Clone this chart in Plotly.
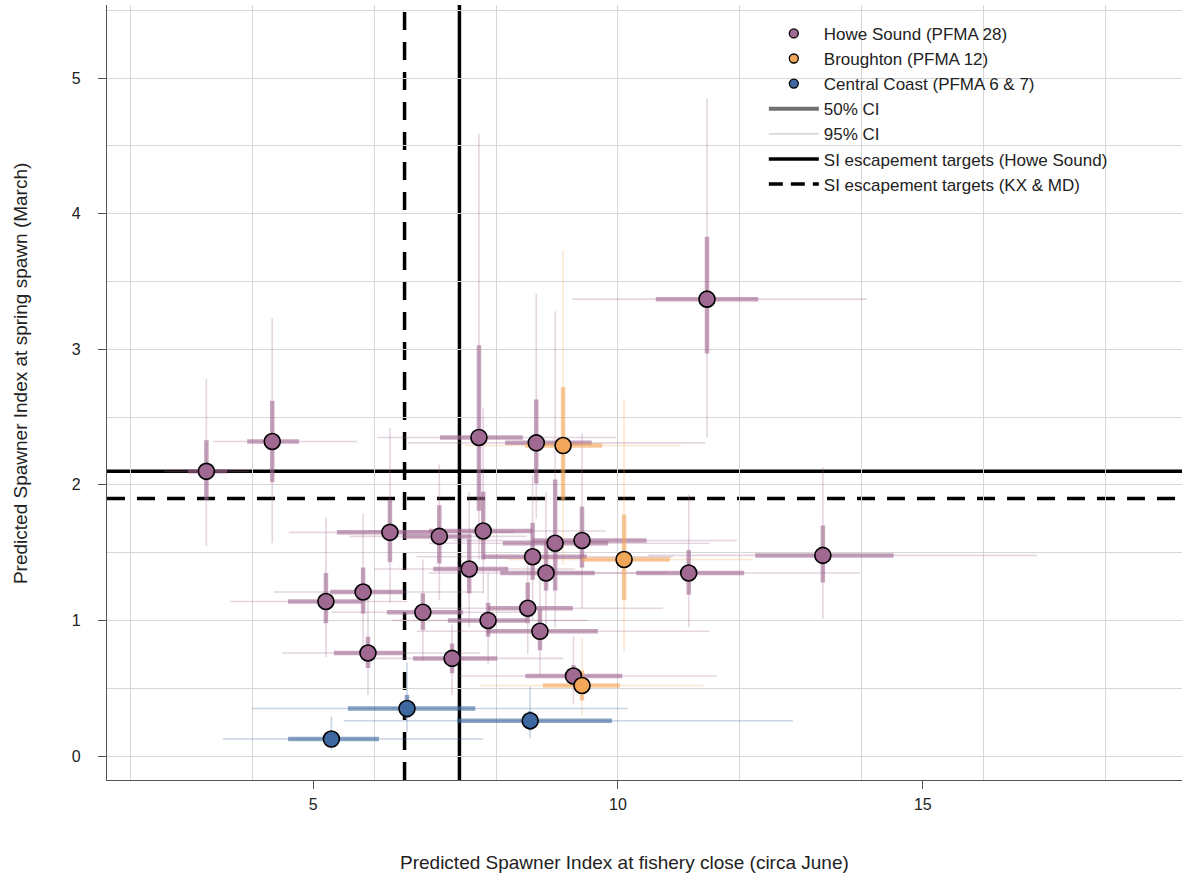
import plotly.graph_objects as go

# ---------------- data ----------------
# Howe Sound (PFMA 28)
howe_x      = [3.25, 4.33, 7.72, 8.66, 6.26, 7.07, 7.79, 9.41, 8.97, 8.60, 7.56, 8.82, 11.16, 13.36, 11.46, 5.21, 5.82, 6.80, 8.52, 7.87, 8.72, 5.90, 7.28, 9.27]
howe_x50_lo = [2.95, 3.92, 7.08, 8.15, 5.39, 6.48, 6.90, 8.60, 8.11, 7.79, 6.97, 8.07, 10.30, 12.25, 10.62, 4.59, 5.28, 6.21, 7.87, 7.21, 7.85, 5.34, 6.64, 8.48]
howe_x50_hi = [3.59, 4.77, 8.44, 9.57, 6.95, 7.60, 8.60, 10.47, 9.84, 9.49, 8.20, 9.62, 12.07, 14.52, 12.30, 5.80, 6.48, 7.46, 9.26, 8.50, 9.67, 6.48, 8.02, 10.07]
howe_x95_lo = [2.55, 3.36, 6.05, 6.56, 4.60, 5.60, 5.90, 7.30, 6.90, 6.70, 6.00, 6.90, 9.05, 10.50, 9.25, 3.64, 4.36, 5.30, 6.90, 6.30, 6.70, 4.49, 5.80, 7.40]
howe_x95_hi = [3.95, 5.72, 9.98, 11.43, 8.30, 8.50, 9.80, 11.95, 11.50, 10.90, 9.30, 10.80, 13.97, 16.87, 14.08, 6.54, 7.79, 8.40, 10.74, 9.50, 11.50, 7.74, 9.10, 11.62]
howe_y      = [2.10, 2.32, 2.35, 2.31, 1.65, 1.62, 1.66, 1.59, 1.57, 1.47, 1.38, 1.35, 1.35, 1.48, 3.37, 1.14, 1.21, 1.06, 1.09, 1.00, 0.92, 0.76, 0.72, 0.59]
howe_y50_lo = [1.89, 2.02, 1.81, 2.01, 1.43, 1.42, 1.45, 1.39, 1.22, 1.30, 1.20, 1.22, 1.19, 1.28, 2.97, 0.98, 1.05, 0.93, 0.98, 0.88, 0.78, 0.65, 0.61, 0.52]
howe_y50_hi = [2.33, 2.62, 3.03, 2.63, 1.89, 1.85, 1.95, 1.84, 2.04, 1.72, 1.60, 1.59, 1.52, 1.70, 3.83, 1.35, 1.39, 1.20, 1.28, 1.13, 1.08, 0.88, 0.83, 0.67]
howe_y95_lo = [1.55, 1.57, 1.45, 1.75, 1.13, 1.15, 1.20, 1.09, 0.95, 1.00, 0.95, 0.90, 0.95, 1.01, 2.35, 0.73, 0.75, 0.70, 0.75, 0.68, 0.60, 0.45, 0.45, 0.38]
howe_y95_hi = [2.78, 3.23, 4.59, 3.41, 2.42, 2.15, 2.57, 2.38, 3.28, 2.07, 1.95, 1.95, 1.93, 2.13, 4.85, 1.76, 1.79, 1.45, 1.50, 1.35, 1.30, 1.25, 0.97, 0.88]

# Broughton (PFMA 12)
brou_x      = [9.10, 10.10, 9.41]
brou_x50_lo = [8.48, 9.41, 8.77]
brou_x50_hi = [9.74, 10.85, 10.03]
brou_x95_lo = [7.49, 8.18, 7.74]
brou_x95_hi = [11.03, 12.21, 11.40]
brou_y      = [2.29, 1.45, 0.52]
brou_y50_lo = [1.89, 1.15, 0.41]
brou_y50_hi = [2.72, 1.78, 0.63]
brou_y95_lo = [1.41, 0.77, 0.30]
brou_y95_hi = [3.73, 2.63, 0.87]

# Central Coast (PFMA 6 & 7)
cc_x      = [6.54, 8.56, 5.30]
cc_x50_lo = [5.57, 7.36, 4.59]
cc_x50_hi = [7.66, 9.90, 6.08]
cc_x95_lo = [4.00, 5.50, 3.52]
cc_x95_hi = [10.16, 12.87, 7.79]
cc_y      = [0.35, 0.26, 0.125]
cc_y50_lo = [0.28, 0.19, 0.08]
cc_y50_hi = [0.45, 0.33, 0.17]
cc_y95_lo = [0.18, 0.13, 0.045]
cc_y95_hi = [0.69, 0.51, 0.29]

# escapement targets
target_howe = 2.1     # Howe Sound, spring spawn
target_kxmd = 1.9     # KX & MD, spring spawn
target_howe_june = 7.4
target_kxmd_june = 6.5

x_ticks = [5, 10, 15]
x_grid = [2, 4, 6, 8, 10, 12, 14, 16, 18]
y_ticks = [0, 1, 2, 3, 4, 5]

series = [
    ("Howe Sound (PFMA 28)", (160, 105, 145),
     howe_x, howe_x50_lo, howe_x50_hi, howe_x95_lo, howe_x95_hi,
     howe_y, howe_y50_lo, howe_y50_hi, howe_y95_lo, howe_y95_hi),
    ("Broughton (PFMA 12)", (242, 166, 90),
     brou_x, brou_x50_lo, brou_x50_hi, brou_x95_lo, brou_x95_hi,
     brou_y, brou_y50_lo, brou_y50_hi, brou_y95_lo, brou_y95_hi),
    ("Central Coast (PFMA 6 & 7)", (62, 104, 160),
     cc_x, cc_x50_lo, cc_x50_hi, cc_x95_lo, cc_x95_hi,
     cc_y, cc_y50_lo, cc_y50_hi, cc_y95_lo, cc_y95_hi),
]


def rgba(c, a):
    return "rgba(%d,%d,%d,%s)" % (c[0], c[1], c[2], a)


def err(center, lo, hi):
    return [h - c for c, h in zip(center, hi)], [c - l for c, l in zip(center, lo)]


fig = go.Figure()

# invisible trace on the grid-only overlay axis
fig.add_trace(go.Scatter(x=[None], y=[None], xaxis="x2", yaxis="y", mode="markers",
                         showlegend=False, hoverinfo="skip"))

# 95% CI (thin)
for name, col, x, x5l, x5h, x9l, x9h, y, y5l, y5h, y9l, y9h in series:
    xp, xm = err(x, x9l, x9h)
    yp, ym = err(y, y9l, y9h)
    fig.add_trace(go.Scatter(
        x=x, y=y, mode="markers", marker=dict(size=1, opacity=0), showlegend=False, hoverinfo="skip",
        error_x=dict(type="data", symmetric=False, array=xp, arrayminus=xm, width=0, thickness=1.6, color=rgba(col, 0.28)),
        error_y=dict(type="data", symmetric=False, array=yp, arrayminus=ym, width=0, thickness=1.6, color=rgba(col, 0.28)),
    ))

# 50% CI (thick)
for name, col, x, x5l, x5h, x9l, x9h, y, y5l, y5h, y9l, y9h in series:
    xp, xm = err(x, x5l, x5h)
    yp, ym = err(y, y5l, y5h)
    fig.add_trace(go.Scatter(
        x=x, y=y, mode="markers", marker=dict(size=1, opacity=0), showlegend=False, hoverinfo="skip",
        error_x=dict(type="data", symmetric=False, array=xp, arrayminus=xm, width=0, thickness=4.5, color=rgba(col, 0.6)),
        error_y=dict(type="data", symmetric=False, array=yp, arrayminus=ym, width=0, thickness=4.5, color=rgba(col, 0.6)),
    ))

# points
for name, col, x, x5l, x5h, x9l, x9h, y, y5l, y5h, y9l, y9h in series:
    fig.add_trace(go.Scatter(
        x=x, y=y, mode="markers", showlegend=False, name=name,
        marker=dict(size=16, color=rgba(col, 1), line=dict(color="black", width=1.6)),
    ))

# legend entries
for name, col, *_ in series:
    fig.add_trace(go.Scatter(
        x=[None], y=[None], mode="markers", name=name,
        marker=dict(size=9, color=rgba(col, 1), line=dict(color="black", width=1.3)),
    ))
fig.add_trace(go.Scatter(x=[None], y=[None], mode="lines", name="50% CI",
                         line=dict(color="#707070", width=4)))
fig.add_trace(go.Scatter(x=[None], y=[None], mode="lines", name="95% CI",
                         line=dict(color="#c8c8c8", width=1.3)))
fig.add_trace(go.Scatter(x=[None], y=[None], mode="lines", name="SI escapement targets (Howe Sound)",
                         line=dict(color="black", width=3.5)))
fig.add_trace(go.Scatter(x=[None], y=[None], mode="lines", name="SI escapement targets (KX & MD)",
                         line=dict(color="black", width=3.5, dash="14px,8px")))

# target lines
line_solid = dict(color="black", width=3.5)
line_dash = dict(color="black", width=3.5, dash="18px,12px")
fig.add_shape(type="line", xref="paper", yref="y", x0=0, x1=1, y0=target_howe, y1=target_howe, line=line_solid, layer="between")
fig.add_shape(type="line", xref="paper", yref="y", x0=0, x1=1, y0=target_kxmd, y1=target_kxmd, line=line_dash, layer="between")
fig.add_shape(type="line", xref="x", yref="paper", x0=target_howe_june, x1=target_howe_june, y0=0, y1=1, line=line_solid, layer="between")
fig.add_shape(type="line", xref="x", yref="paper", x0=target_kxmd_june, x1=target_kxmd_june, y0=0, y1=1, line=line_dash, layer="between")

font_family = "Liberation Sans, Arial, sans-serif"
x_range = [1.62, 19.25]

fig.update_layout(
    width=1182, height=880,
    margin=dict(l=107, r=0, t=5, b=100),
    plot_bgcolor="white", paper_bgcolor="white",
    font=dict(family=font_family, size=16, color="#222"),
    legend=dict(x=0.611, y=0.986, xanchor="left", yanchor="top", bgcolor="rgba(0,0,0,0)",
                font=dict(size=17, color="#222"), tracegroupgap=0, itemwidth=50),
    xaxis=dict(range=x_range, tickmode="array", tickvals=x_ticks, showgrid=False, zeroline=False,
               showline=True, linecolor="#555", linewidth=1.3, ticks="outside", ticklen=8, tickwidth=1.3,
               tickcolor="#555", ticklabelstandoff=2),
    xaxis2=dict(range=x_range, overlaying="x", side="bottom", tickmode="array", tickvals=x_grid,
                showgrid=True, gridcolor="#d6d6d6", gridwidth=1.3, showticklabels=False, ticks="",
                showline=False, zeroline=False),
    yaxis=dict(range=[-0.177, 5.54], tickmode="array", tickvals=y_ticks, showgrid=True, gridcolor="#d6d6d6", gridwidth=1.3,
               zeroline=False, showline=True, linecolor="#555", linewidth=1.3, ticks="outside", ticklen=8,
               tickwidth=1.3, tickcolor="#555", ticklabelstandoff=14,
               minor=dict(dtick=0.5, tick0=0, showgrid=True, gridcolor="#d6d6d6", gridwidth=1.3, ticks="")),
    annotations=[
        dict(text="Predicted Spawner Index at fishery close (circa June)", xref="paper", yref="paper",
             x=0.481, y=-0.106, xanchor="center", yanchor="middle", showarrow=False, font=dict(size=19, color="#222")),
        dict(text="Predicted Spawner Index at spring spawn (March)", xref="paper", yref="paper",
             x=-0.081, y=0.525, xanchor="center", yanchor="middle", textangle=-90, showarrow=False,
             font=dict(size=19, color="#222")),
    ],
)

fig.write_html("out.html")
